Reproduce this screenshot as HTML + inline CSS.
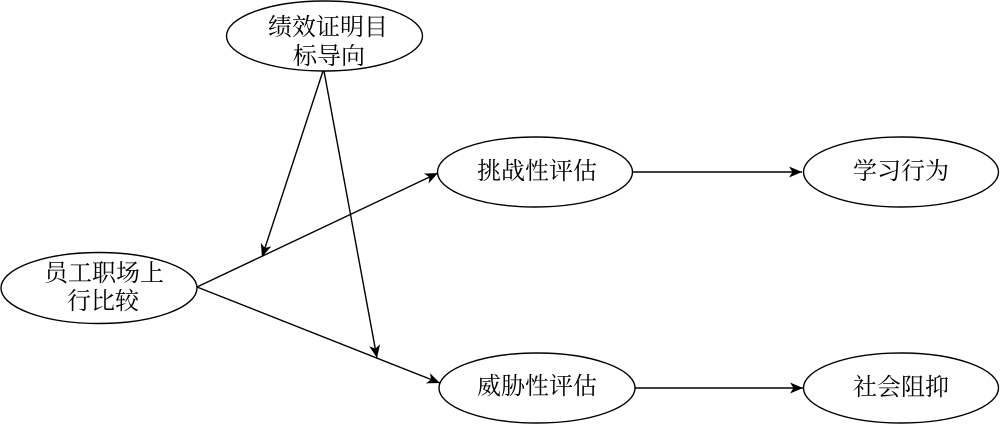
<!DOCTYPE html>
<html>
<head>
<meta charset="utf-8">
<style>
  html, body { margin: 0; padding: 0; background: #ffffff; }
  body { width: 1000px; height: 425px; overflow: hidden; }
  svg { display: block; }
  text { font-family: "Liberation Serif", "Noto Serif CJK SC", "Noto Sans CJK SC", serif; font-size: 24px; fill: #000; }
</style>
</head>
<body>
<svg width="1000" height="425" viewBox="0 0 1000 425" xmlns="http://www.w3.org/2000/svg">
  <defs>
    <marker id="arr" markerUnits="userSpaceOnUse" markerWidth="16" markerHeight="14" viewBox="-14 -7 16 14" refX="0" refY="0" orient="auto">
      <path d="M0,0 L-13,-5.5 L-9.5,0 L-13,5.5 Z" fill="#000"/>
    </marker>
  </defs>

  <g fill="#fff" stroke="#000" stroke-width="1.4">
    <ellipse cx="324.5" cy="36" rx="98" ry="35"/>
    <ellipse cx="99" cy="288" rx="98" ry="35.5"/>
    <ellipse cx="535" cy="172" rx="97.5" ry="35"/>
    <ellipse cx="901" cy="172" rx="97.5" ry="35"/>
    <ellipse cx="537" cy="388" rx="98" ry="35"/>
    <ellipse cx="901" cy="388" rx="97.5" ry="35"/>
  </g>

  <g stroke="#000" stroke-width="1.4" fill="none">
    <line x1="197" y1="287" x2="438" y2="173" marker-end="url(#arr)"/>
    <line x1="197" y1="287" x2="440" y2="383" marker-end="url(#arr)"/>
    <line x1="323" y1="71" x2="262" y2="257" marker-end="url(#arr)"/>
    <line x1="324" y1="71" x2="377" y2="358" marker-end="url(#arr)"/>
    <line x1="632" y1="172" x2="802" y2="172" marker-end="url(#arr)"/>
    <line x1="635" y1="388" x2="803" y2="388" marker-end="url(#arr)"/>
  </g>

  <g text-anchor="middle" dominant-baseline="central">
    <text x="328" y="28">绩效证明目</text>
    <text x="329" y="57">标导向</text>
    <text x="104" y="274">员工职场上</text>
    <text x="103" y="302">行比较</text>
    <text x="537" y="172">挑战性评估</text>
    <text x="901" y="172">学习行为</text>
    <text x="537" y="387">威胁性评估</text>
    <text x="901" y="388">社会阻抑</text>
  </g>
</svg>
</body>
</html>
